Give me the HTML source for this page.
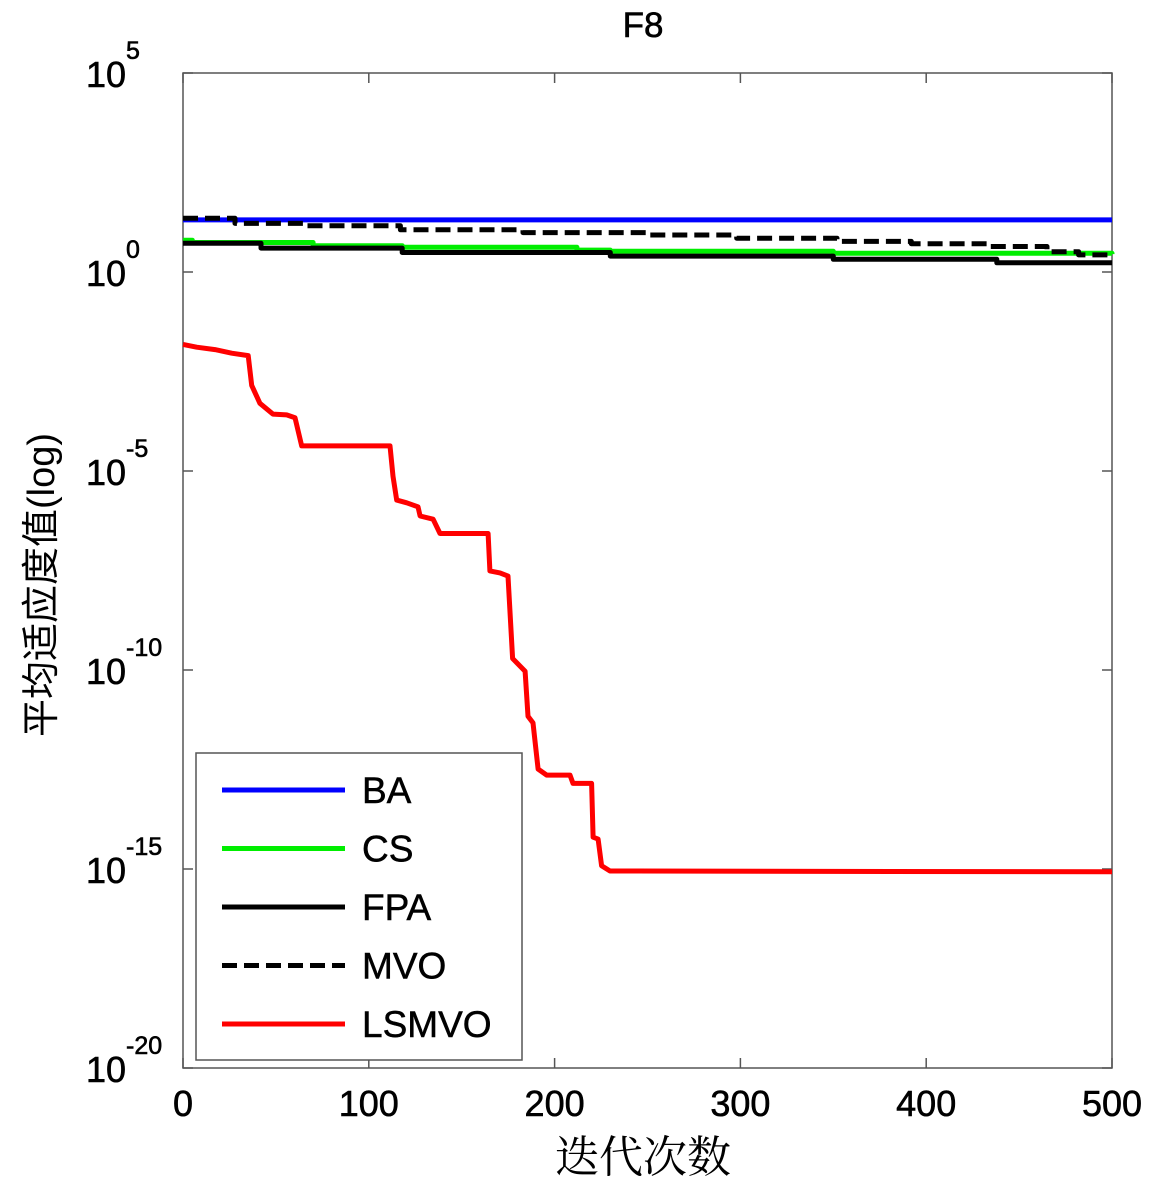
<!DOCTYPE html>
<html><head><meta charset="utf-8"><style>
body{margin:0;background:#fff;}
svg{display:block;font-family:"Liberation Sans","Noto Sans CJK SC",sans-serif;}
</style></head><body>
<svg id="chart" width="1150" height="1180" viewBox="0 0 1150 1180" xmlns="http://www.w3.org/2000/svg">
<rect width="1150" height="1180" fill="#fff"/>
<text x="643" y="37" font-size="35" text-anchor="middle" stroke="#000" stroke-width="0.6">F8</text>
<g id="axes"></g>
<g id="series"></g>
<text x="643" y="1172" font-size="44" text-anchor="middle" font-family="'Liberation Serif','Noto Serif CJK SC',serif">迭代次数</text>
<text transform="translate(54,585) rotate(-90)" font-size="38" text-anchor="middle">平均适应度值(log)</text>
<g id="legend"></g>
</svg>
<script>
const xTicks=[0,100,200,300,400,500];
const yTickExps=[5,0,-5,-10,-15,-20];
const baIter=[0,500];
const baLog=[1.31,1.31];
const csIter=[0,5,70,118,212,230,350,500];
const csLog=[0.80,0.74,0.66,0.62,0.55,0.52,0.47,0.45];
const fpaIter=[0,42,118,230,350,438,500];
const fpaLog=[0.72,0.60,0.49,0.40,0.32,0.23,0.23];
const mvoIter=[0,28,65,117,183,250,298,352,392,433,465,482,500];
const mvoLog=[1.35,1.22,1.16,1.06,0.99,0.93,0.85,0.77,0.71,0.64,0.51,0.43,0.43];
const lsIter=[0,7.4,17.2,26.2,35.1,37,41.4,48.4,55.8,60.3,63.9,111.4,113,115,120.4,126.5,127.6,134.6,138.3,164.2,165.2,170.6,174.9,177.4,184.1,185.7,188.4,191.1,195.7,208.3,209.9,219.9,220.7,223.4,225.3,229.8,500];
const lsLog=[-1.82,-1.89,-1.95,-2.04,-2.10,-2.85,-3.30,-3.57,-3.59,-3.66,-4.37,-4.37,-5.13,-5.73,-5.80,-5.90,-6.13,-6.21,-6.57,-6.57,-7.51,-7.56,-7.64,-9.71,-10.03,-11.16,-11.33,-12.49,-12.64,-12.64,-12.85,-12.85,-14.20,-14.25,-14.92,-15.05,-15.07];

const X0=183,X1=1112,Y0=73,Y1=1068;
const sx=v=>X0+(v-0)/500*(X1-X0);
const sy=l=>Y0+(5-l)/25*(Y1-Y0);
const NS="http://www.w3.org/2000/svg";
function mk(tag,attrs,parent){const e=document.createElementNS(NS,tag);for(const k in attrs)e.setAttribute(k,attrs[k]);parent.appendChild(e);return e;}
const axes=document.getElementById('axes');
const frame=mk('rect',{x:X0,y:Y0,width:X1-X0,height:Y1-Y0,fill:'none',stroke:'#555','stroke-width':1.5},axes);


xTicks.forEach(t=>{
  const x=sx(t);
  const a=mk('line',{x1:x,x2:x,y1:Y1,y2:Y1-10,stroke:'#555','stroke-width':1.5},axes);
  
  
  const b=mk('line',{x1:x,x2:x,y1:Y0,y2:Y0+10,stroke:'#555','stroke-width':1.5},axes);
  
  
  const tx=mk('text',{x:x,y:1116,'font-size':36,'text-anchor':'middle',stroke:'#000','stroke-width':0.6},axes);
  tx.textContent=t;
  
  
});
yTickExps.forEach(e=>{
  const y=sy(e);
  const a=mk('line',{x1:X0,x2:X0+10,y1:y,y2:y,stroke:'#555','stroke-width':1.5},axes);
  
  
  const b=mk('line',{x1:X1,x2:X1-10,y1:y,y2:y,stroke:'#555','stroke-width':1.5},axes);
  
  
  const tx=mk('text',{x:86,y:y+14,'font-size':36,stroke:'#000','stroke-width':0.6},axes);
  
  
  tx.appendChild(document.createTextNode('10'));
  const sp=mk('tspan',{dy:-28,'font-size':25},tx);
  sp.textContent=String(e);
});
const ser=document.getElementById('series');
function draw(xs,ls,color,name,dash,step){
  let d='M'+sx(xs[0]).toFixed(1)+','+sy(ls[0]).toFixed(1);
  for(let i=1;i<xs.length;i++){
    if(step)d+='L'+sx(xs[i]).toFixed(1)+','+sy(ls[i-1]).toFixed(1);
    d+='L'+sx(xs[i]).toFixed(1)+','+sy(ls[i]).toFixed(1);
  }
  const p=mk('path',{d:d,fill:'none',stroke:color,'stroke-width':5,'stroke-linejoin':'round'},ser);
  if(dash)p.setAttribute('stroke-dasharray','15,7');
  
  
}
draw(baIter,baLog,'#0000ff','ba-line',false,true);
draw(csIter,csLog,'#00ee00','cs-line',false,true);
draw(fpaIter,fpaLog,'#000','fpa-line',false,true);
draw(mvoIter,mvoLog,'#000','mvo-line',true,true);
draw(lsIter,lsLog,'#ff0000','lsmvo-line',false,false);

const lg=document.getElementById('legend');
const box=mk('rect',{x:196,y:753,width:326,height:307,fill:'#fff',stroke:'#555','stroke-width':1.5},lg);


const legNames=['BA','CS','FPA','MVO','LSMVO'];
const legColors=['#0000ff','#00ee00','#000','#000','#ff0000'];
legNames.forEach((n,i)=>{
  const y=790+i*58.5;
  const l=mk('line',{x1:222,x2:345,y1:y,y2:y,stroke:legColors[i],'stroke-width':5},lg);
  if(n==='MVO')l.setAttribute('stroke-dasharray','15,7');
  
  
  const t=mk('text',{x:362,y:y+13,'font-size':37,stroke:'#000','stroke-width':0.5},lg);
  t.textContent=n;
  
  
});
</script>
</body></html>
